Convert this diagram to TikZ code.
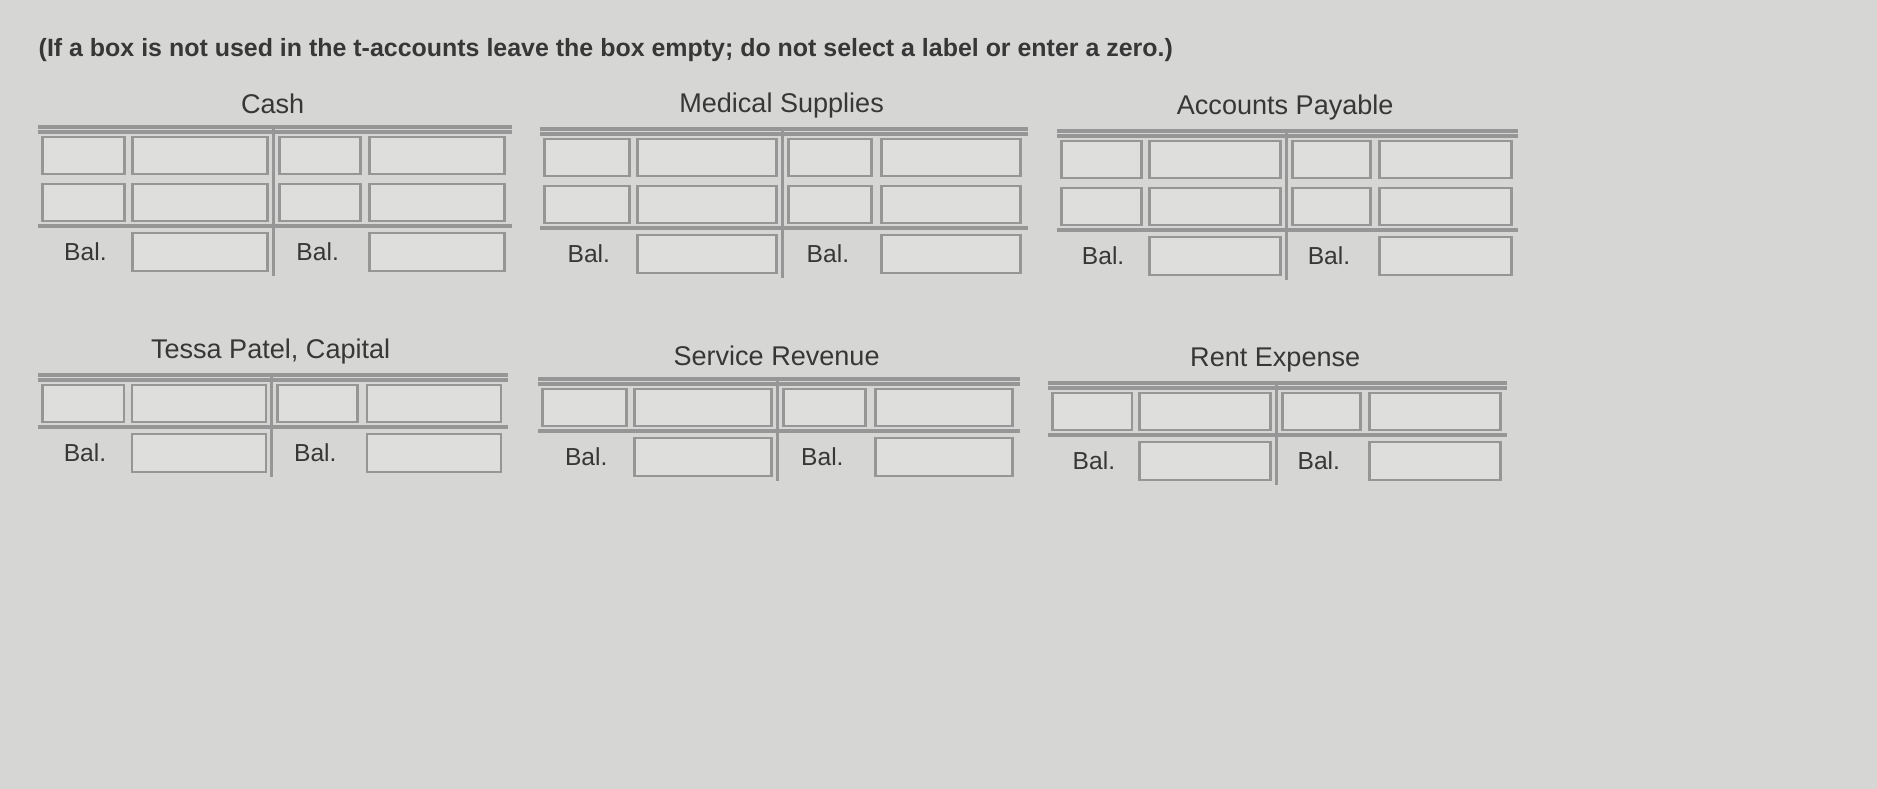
\documentclass[tikz,border=0pt]{standalone}
\usepackage{fontspec}
\setmainfont{Liberation Sans}
\usetikzlibrary{calc}
\definecolor{screen}{RGB}{214,214,212}
\definecolor{rule}{RGB}{150,150,150}
\definecolor{boxfill}{RGB}{222,222,220}
\definecolor{ink}{RGB}{55,55,55}
\tikzstyle{acctitle} = [text=ink, font=\fontsize{7.7pt}{8pt}\selectfont, inner sep=0pt]
\tikzstyle{tline}    = [draw=rule, line width=1.2pt]
\tikzstyle{entry}    = [draw=rule, fill=boxfill, line width=0.8pt]
\tikzstyle{ballabel} = [text=ink, font=\fontsize{7pt}{8pt}\selectfont, inner sep=0pt]

% #1 name, #2 left, #3 top line, #4 width, #5 rows, #6 title
\newcommand{\taccount}[6]{%
  \begin{scope}[shift={(#2,-#3)}, x=#4cm]
    \node[acctitle] (#1) at (0.495,0.23) {#6};
    \draw[tline] (0,0) -- (1,0);
    \draw[tline] (0,-0.05) -- (1,-0.05);
    \foreach \r in {1,...,#5}{
      \pgfmathsetmacro{\yt}{-0.1-(\r-1)*0.47}
      \foreach \a/\b [count=\c] in {0.01/0.183, 0.2/0.485, 0.51/0.68, 0.70/0.985}
        \draw[entry] (\a,\yt) rectangle (\b,\yt-0.37);
    }
    \pgfmathsetmacro{\yl}{-0.1-(#5-1)*0.47-0.42}
    \draw[tline] (0,\yl) -- (1,\yl);
    \draw[draw=rule, line width=0.8pt] (0.497,0) -- (0.497,\yl-0.5);
    \node[ballabel] (#1-bl) at (0.1,\yl-0.26) {Bal.};
    \draw[entry] (0.2,\yl-0.07) rectangle (0.485,\yl-0.45);
    \node[ballabel] (#1-br) at (0.59,\yl-0.26) {Bal.};
    \draw[entry] (0.70,\yl-0.07) rectangle (0.985,\yl-0.45);
  \end{scope}}

\begin{document}
\begin{tikzpicture}
  \useasboundingbox (0,0) rectangle (18.77,-7.89);
  \fill[screen] (0,0) rectangle (18.77,-7.89);

  \node[text=ink, font=\bfseries\fontsize{7.1pt}{8pt}\selectfont, anchor=west, inner sep=0pt] (note) at (0.38,-0.5)
    {(If a box is not used in the t-accounts leave the box empty; do not select a label or enter a zero.)};

  \taccount{cash}{0.38}{1.27}{4.74}{2}{Cash}
  \taccount{supplies}{5.40}{1.29}{4.88}{2}{Medical Supplies}
  \taccount{payable}{10.57}{1.31}{4.61}{2}{Accounts Payable}

  \taccount{capital}{0.38}{3.75}{4.70}{1}{Tessa Patel, Capital}
  \taccount{revenue}{5.38}{3.79}{4.82}{1}{Service Revenue}
  \taccount{rent}{10.48}{3.83}{4.59}{1}{Rent Expense}
\end{tikzpicture}
\end{document}
